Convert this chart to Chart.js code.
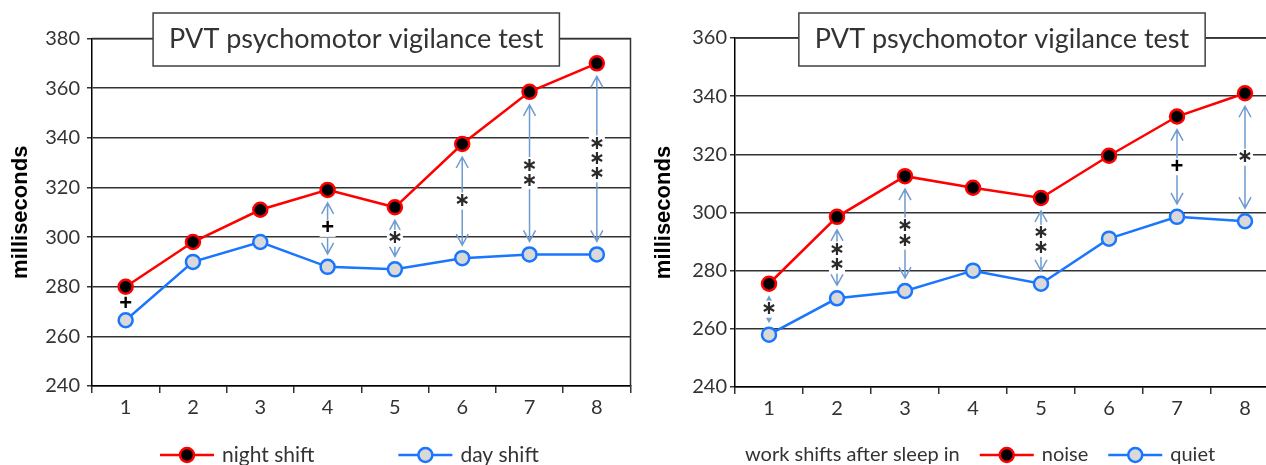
<!DOCTYPE html>
<html>
<head>
<meta charset="utf-8">
<script src="https://cdn.jsdelivr.net/npm/chart.js@4.4.1/dist/chart.umd.min.js"></script>
<style>
html, body { margin: 0; padding: 0; background: #fff; overflow: hidden; }
#page { position: relative; width: 1266px; height: 465px; overflow: hidden; }
canvas { position: absolute; top: 0; }
#gauche { left: 0; }
#droite { left: 640px; }
</style>
</head>
<body>
<div id="page">
  <canvas id="gauche" width="640" height="465"></canvas>
  <canvas id="droite" width="660" height="465"></canvas>
</div>
<script>
// Shared labels
const categories = ["1", "2", "3", "4", "5", "6", "7", "8"];
const chartTitle = "PVT psychomotor vigilance test";
const yTitle = "milliseconds";

// Left chart: night shift vs day shift
const nightShift = [280, 298, 311, 319, 312, 337.5, 358.5, 370];
const dayShift = [266.5, 290, 298, 288, 287, 291.5, 293, 293];
const leftTicks = [240, 260, 280, 300, 320, 340, 360, 380];
const leftSig = ["+", "", "", "+", "*", "*", "**", "***"];
const leftArrows = [false, false, false, true, true, true, true, true];

// Right chart: sleep in noise vs quiet
const noise = [275.5, 298.5, 312.5, 308.5, 305, 319.5, 333, 341];
const quiet = [258, 270.5, 273, 280, 275.5, 291, 298.5, 297];
const rightTicks = [240, 260, 280, 300, 320, 340, 360];
const rightSig = ["*", "**", "**", "", "**", "", "+", "*"];
const rightArrows = [true, true, true, false, true, false, true, true];
const rightLegendPrefix = "work shifts after sleep in";

const RED = "#ff0000";
const BLUE = "#1a75ff";
const ARROW = "#6f9bd1";
const TEXT = "#333333";
const FONT = "Lato, 'Open Sans', sans-serif";

// Frame on top and right of the plot area
const framePlugin = {
	id: "frame",
	beforeDatasetsDraw(chart) {
		const ctx = chart.ctx, a = chart.chartArea;
		ctx.save();
		ctx.strokeStyle = "#333";
		ctx.lineWidth = 1.5;
		ctx.beginPath();
		ctx.moveTo(a.left, a.top);
		ctx.lineTo(a.right, a.top);
		ctx.lineTo(a.right, a.bottom);
		ctx.stroke();
		ctx.restore();
	}
};

// Double arrows and significance marks between the two series
const signifPlugin = {
	id: "signif",
	afterDatasetsDraw(chart, args, opts) {
		const ctx = chart.ctx;
		const x = chart.scales.x, y = chart.scales.y;
		const haut = chart.data.datasets[0].data;
		const bas = chart.data.datasets[1].data;
		opts.labels.forEach((lab, i) => {
			const px = x.getPixelForValue(i);
			const y1 = y.getPixelForValue(haut[i]);
			const y2 = y.getPixelForValue(bas[i]);
			const mid = (y1 + y2) / 2;
			ctx.save();
			if (opts.arrows[i]) {
				const a = y1 + 13, b = y2 - 13;
				ctx.strokeStyle = ARROW;
				ctx.lineWidth = 1.5;
				ctx.beginPath();
				ctx.moveTo(px, a);
				ctx.lineTo(px, b);
				ctx.moveTo(px - 6, a + 11);
				ctx.lineTo(px, a);
				ctx.lineTo(px + 6, a + 11);
				ctx.moveTo(px - 6, b - 11);
				ctx.lineTo(px, b);
				ctx.lineTo(px + 6, b - 11);
				ctx.stroke();
			}
			if (lab) {
				const step = 15;
				const h = lab.length * step + 2;
				ctx.fillStyle = "#fff";
				ctx.fillRect(px - 8, mid - h / 2, 16, h);
				ctx.textAlign = "center";
				ctx.textBaseline = "middle";
				for (let k = 0; k < lab.length; k++) {
					const cy = mid - (lab.length - 1) * step / 2 + k * step;
					if (lab[k] === "+") {
						ctx.font = "bold 22px 'Liberation Sans', sans-serif";
						ctx.fillStyle = "#000";
						ctx.fillText("+", px, cy);
					} else {
						ctx.font = "bold 19px 'DejaVu Sans', sans-serif";
						ctx.fillStyle = "#2a2a2a";
						ctx.fillText("\u2217", px, cy);
					}
				}
			}
			ctx.restore();
		});
	}
};

// Title in a white box sitting on the top frame
const boxTitlePlugin = {
	id: "boxTitle",
	afterDraw(chart, args, opts) {
		const ctx = chart.ctx, a = chart.chartArea;
		ctx.save();
		ctx.font = "27px " + FONT;
		const w = ctx.measureText(opts.text).width + 32;
		const cx = (a.left + a.right) / 2 - 5;
		ctx.fillStyle = "#fff";
		ctx.fillRect(cx - w / 2, 13, w, 53);
		ctx.strokeStyle = "#404040";
		ctx.lineWidth = 1.5;
		ctx.strokeRect(cx - w / 2, 13, w, 53);
		ctx.fillStyle = TEXT;
		ctx.textAlign = "center";
		ctx.textBaseline = "middle";
		ctx.fillText(opts.text, cx, 39);
		ctx.restore();
	}
};

// Legend on one row under the axis
const rowLegendPlugin = {
	id: "rowLegend",
	afterDraw(chart, args, opts) {
		const ctx = chart.ctx;
		const y = 455;
		let x = opts.x;
		ctx.save();
		ctx.font = opts.size + "px " + FONT;
		ctx.fillStyle = TEXT;
		ctx.textBaseline = "middle";
		ctx.textAlign = "left";
		if (opts.prefix) {
			ctx.fillText(opts.prefix, x, y);
			x += ctx.measureText(opts.prefix).width + 20;
		}
		chart.data.datasets.forEach(ds => {
			ctx.strokeStyle = ds.borderColor;
			ctx.lineWidth = 2.5;
			ctx.beginPath();
			ctx.moveTo(x, y);
			ctx.lineTo(x + 54, y);
			ctx.stroke();
			ctx.beginPath();
			ctx.arc(x + 27, y, 7, 0, Math.PI * 2);
			ctx.fillStyle = ds.pointBackgroundColor;
			ctx.fill();
			ctx.lineWidth = ds.pointBorderWidth;
			ctx.strokeStyle = ds.pointBorderColor;
			ctx.stroke();
			x += 62;
			ctx.fillStyle = TEXT;
			ctx.fillText(ds.label, x, y);
			x += ctx.measureText(ds.label).width + opts.gap;
		});
		ctx.restore();
	}
};

function serie(label, data, couleur, fond) {
	return {
		label: label,
		data: data,
		borderColor: couleur,
		borderWidth: 2.5,
		pointRadius: 7,
		pointHoverRadius: 7,
		pointBorderWidth: 2.5,
		pointBackgroundColor: fond,
		pointBorderColor: couleur,
		tension: 0,
	};
}

function config(datasets, ticks, opt) {
	return {
		type: "line",
		data: { labels: categories, datasets: datasets },
		options: {
			responsive: false,
			animation: false,
			devicePixelRatio: 1,
			layout: { padding: { top: opt.top, right: opt.right, left: 0, bottom: 0 } },
			plugins: {
				legend: { display: false },
				tooltip: { enabled: false },
				signif: { labels: opt.sig, arrows: opt.arrows },
				boxTitle: { text: chartTitle },
				rowLegend: { x: opt.legendX, prefix: opt.prefix, gap: opt.gap, size: opt.legendSize },
			},
			scales: {
				x: {
					type: "category",
					offset: true,
					grid: { offset: true, drawOnChartArea: false, drawTicks: true, tickLength: 7, color: "#333", lineWidth: 1.5 },
					border: { display: true, color: "#000", width: 1.5 },
					ticks: { font: { family: FONT, size: 20 }, color: TEXT, padding: 3 },
					afterFit: s => { s.height = opt.xHeight; },
				},
				y: {
					min: ticks[0],
					max: ticks[ticks.length - 1],
					afterBuildTicks: s => { s.ticks = ticks.map(v => ({ value: v })); },
					grid: { color: "#333", lineWidth: 1.5, tickLength: 5 },
					border: { display: true, color: "#000", width: 1.5 },
					ticks: { font: { family: FONT, size: 20 }, color: TEXT, padding: opt.tickPad },
					title: {
						display: true,
						text: yTitle,
						color: "#000",
						font: { family: "'Liberation Sans', Arial, sans-serif", size: 22, weight: "bold" },
						padding: { top: opt.titlePad, bottom: 0 },
					},
					afterFit: s => { s.width = opt.yWidth; },
				},
			},
		},
		plugins: [framePlugin, signifPlugin, boxTitlePlugin, rowLegendPlugin],
	};
}

const graphiqueGauche = new Chart(
	document.querySelector("#gauche"),
	config(
		[serie("night shift", nightShift, RED, "#000"), serie("day shift", dayShift, BLUE, "#d9d9d9")],
		leftTicks,
		{ top: 38.5, right: 5, xHeight: 79, yWidth: 92, tickPad: 7, titlePad: 8, sig: leftSig, arrows: leftArrows, legendX: 160, prefix: "", gap: 84, legendSize: 21 }
	)
);

const graphiqueDroite = new Chart(
	document.querySelector("#droite"),
	config(
		[serie("noise", noise, RED, "#000"), serie("quiet", quiet, BLUE, "#d9d9d9")],
		rightTicks,
		{ top: 38, right: 21, xHeight: 78, yWidth: 95, tickPad: 3, titlePad: 11, sig: rightSig, arrows: rightArrows, legendX: 105, prefix: rightLegendPrefix, gap: 20, legendSize: 20 }
	)
);
</script>
</body>
</html>
